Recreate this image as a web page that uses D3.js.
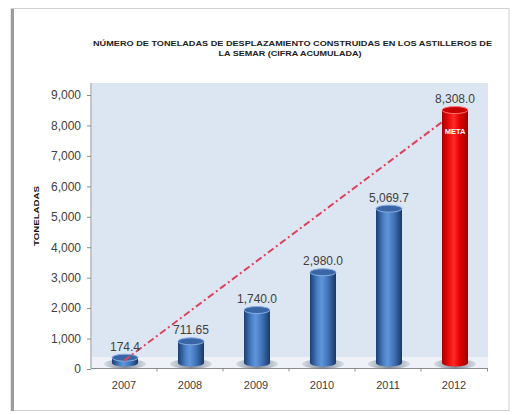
<!DOCTYPE html>
<html><head><meta charset="utf-8">
<script src="https://cdn.jsdelivr.net/npm/d3@7"></script>
<style>html,body{margin:0;padding:0;background:#fff;}svg{display:block;}</style>
</head><body>
<script>
const years = ["2007","2008","2009","2010","2011","2012"];
const values = [174.4, 711.65, 1740.0, 2980.0, 5069.7, 8308.0];
const valueLabels = ["174.4","711.65","1,740.0","2,980.0","5,069.7","8,308.0"];
const yTicks = [0,1000,2000,3000,4000,5000,6000,7000,8000,9000];
const trendYears = ["2007","2012"];
const trendValues = [174.4, 8308.0];
const titleLines = ["NÚMERO DE TONELADAS DE DESPLAZAMIENTO CONSTRUIDAS EN LOS ASTILLEROS DE","LA SEMAR (CIFRA ACUMULADA)"];
const yTitle = "TONELADAS";
const goalLabel = "META";

const W=514,H=415;
const svg=d3.select("body").append("svg").attr("width",W).attr("height",H);
const defs=svg.append("defs");
function grad(id,stops){const g=defs.append("linearGradient").attr("id",id).attr("x1","0%").attr("x2","100%").attr("y1","0%").attr("y2","0%");
 stops.forEach(s=>g.append("stop").attr("offset",s[0]).attr("stop-color",s[1]));}
grad("gBlue",[["0%","#1c3f73"],["30%","#4c82c9"],["45%","#5f95da"],["70%","#3f72b8"],["100%","#1a3866"]]);
grad("gRed",[["0%","#a80000"],["30%","#f21010"],["45%","#ff2a2a"],["70%","#e00000"],["100%","#9a0000"]]);
grad("gShadow",[["0%","rgba(120,130,145,0.2)"],["50%","rgba(110,120,135,0.85)"],["100%","rgba(120,130,145,0.2)"]]);

// frame
svg.append("rect").attr("x",11).attr("y",8.5).attr("width",498).attr("height",402).attr("fill","#fff").attr("stroke","#d0d0d0");
svg.append("line").attr("x1",12.5).attr("x2",12.5).attr("y1",9).attr("y2",411).attr("stroke","#9c9c9c").attr("stroke-width",3);

const x=d3.scaleBand().domain(years).range([91,487]);
const y=d3.scaleLinear().domain([0,9000]).range([369,95]);
const dz=6;

// plot background
svg.append("rect").attr("x",92).attr("y",83).attr("width",396).attr("height",285).attr("fill","#dce6f2");
svg.append("rect").attr("x",92).attr("y",357).attr("width",396).attr("height",11).attr("fill","#eef2f8");

// axes
const ya=svg.append("g").attr("transform","translate(91,0)").call(d3.axisLeft(y).tickValues(yTicks).tickSize(4).tickPadding(6).tickFormat(d3.format(",")));
ya.select(".domain").attr("stroke","#8c8c8c").attr("d","M0,83V368.5");
ya.selectAll(".tick line").attr("stroke","#8c8c8c");
ya.selectAll("text").attr("font-family","Liberation Sans, Arial, sans-serif").attr("font-size","12px").attr("fill","#404040");

const xa=svg.append("g").attr("transform","translate(0,368.5)").call(d3.axisBottom(x).tickSize(0).tickPadding(13));
xa.select(".domain").attr("stroke","#8c8c8c").attr("d","M91,0H488");
xa.selectAll("text").attr("font-family","Liberation Sans, Arial, sans-serif").attr("font-size","11px").attr("fill","#404040");
xa.selectAll(".bnd").data(years.slice(1)).enter().append("line").attr("x1",d=>x(d)).attr("x2",d=>x(d)).attr("y1",0).attr("y2",3).attr("stroke","#8c8c8c");
svg.append("line").attr("x1",487.5).attr("x2",487.5).attr("y1",368.5).attr("y2",371.5).attr("stroke","#8c8c8c");

// bars (cylinders)
const bw=26, rx=bw/2, ry=3.5, base=y(0)-dz;
function cyl(g,i){
  const cx=x(years[i])+x.bandwidth()/2+1, top=y(values[i])-dz, red=i===years.length-1;
  g.append("path").attr("d",`M${cx-rx},${top}V${base}A${rx},${ry} 0 0 0 ${cx+rx},${base}V${top}Z`).attr("fill",red?"url(#gRed)":"url(#gBlue)");
  g.append("ellipse").attr("cx",cx).attr("cy",top).attr("rx",rx).attr("ry",ry).attr("fill",red?"#c80000":"#3a66a6").attr("stroke",red?"#ff7070":"#86aee2").attr("stroke-width",1);
}
const shadows=svg.append("g");
years.forEach((yr,i)=>{
  const cx=x(yr)+x.bandwidth()/2+1;
  shadows.append("ellipse").attr("cx",cx).attr("cy",base+1).attr("rx",rx+8).attr("ry",ry+1.5).attr("fill","url(#gShadow)");
});
const bars=svg.append("g");
years.forEach((yr,i)=>{ if(i<years.length-1) cyl(bars,i); });

// trend line
const line=d3.line().x(d=>x(d[0])+x.bandwidth()/2).y(d=>y(d[1])-3);
svg.append("path").datum(trendYears.map((d,i)=>[d,trendValues[i]])).attr("d",line).attr("fill","none").attr("stroke","#d8455f").attr("stroke-width",2).attr("stroke-dasharray","7,3,2,3");

// goal bar over the line
const goalG=svg.append("g");
cyl(goalG,years.length-1);
goalG.append("text").attr("x",x(years[5])+x.bandwidth()/2+1).attr("y",y(values[5])+18).attr("text-anchor","middle").attr("font-family","Liberation Sans, Arial, sans-serif").attr("font-weight","bold").attr("font-size","7.5px").attr("fill","#fff").text(goalLabel);

// value labels
svg.append("g").selectAll("text").data(years).enter().append("text")
 .attr("x",(d)=>x(d)+x.bandwidth()/2+1).attr("y",(d,i)=>y(values[i])-13).attr("text-anchor","middle")
 .attr("font-family","Liberation Sans, Arial, sans-serif").attr("font-size","12px").attr("fill","#404040")
 .text((d,i)=>valueLabels[i]);

// titles
svg.append("text").attr("x",93).attr("y",46).attr("font-family","Liberation Sans, Arial, sans-serif").attr("font-weight","bold").attr("font-size","7.5px").attr("fill","#222")
 .attr("textLength",399).attr("lengthAdjust","spacingAndGlyphs").text(titleLines[0]);
svg.append("text").attr("x",290).attr("y",56).attr("text-anchor","middle").attr("font-family","Liberation Sans, Arial, sans-serif").attr("font-weight","bold").attr("font-size","7.5px").attr("fill","#222")
 .attr("textLength",143).attr("lengthAdjust","spacingAndGlyphs").text(titleLines[1]);
svg.append("text").attr("transform","translate(39,216) rotate(-90)").attr("text-anchor","middle").attr("font-family","Liberation Sans, Arial, sans-serif").attr("font-weight","bold").attr("font-size","7.5px").attr("fill","#111")
 .attr("textLength",60).attr("lengthAdjust","spacingAndGlyphs").text(yTitle);
</script>
</body></html>
